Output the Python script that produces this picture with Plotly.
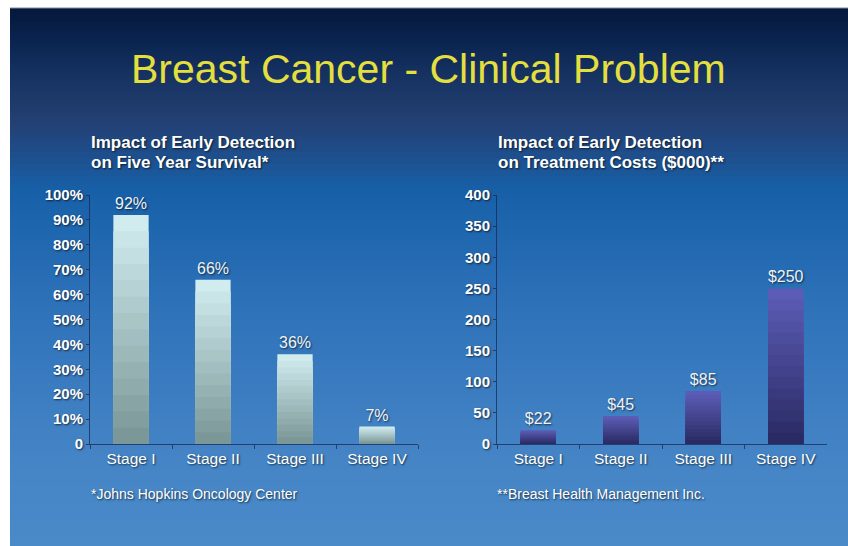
import plotly.graph_objects as go

# ---------------- data ----------------
stages = ["Stage I", "Stage II", "Stage III", "Stage IV"]
survival = [92, 66, 36, 7]
survival_labels = ["92%", "66%", "36%", "7%"]
costs = [22, 45, 85, 250]
cost_labels = ["$22", "$45", "$85", "$250"]
pct_ticks = [0, 10, 20, 30, 40, 50, 60, 70, 80, 90, 100]
pct_ticktext = ["0"] + [f"{v}%" for v in pct_ticks[1:]]
cost_ticks = [0, 50, 100, 150, 200, 250, 300, 350, 400]

title = "Breast Cancer - Clinical Problem"
sub_left = ["Impact of Early Detection", "on Five Year Survival*"]
sub_right = ["Impact of Early Detection", "on Treatment Costs ($000)**"]
foot_left = "*Johns Hopkins Oncology Center"
foot_right = "**Breast Health Management Inc."

W, H = 848, 546
FONT = "Liberation Sans, Arial, sans-serif"
SHADOW = "1px 1px 2px rgba(0,0,0,0.65)"


def hex2rgb(h):
    h = h.lstrip("#")
    return tuple(int(h[i:i + 2], 16) for i in (0, 2, 4))


def mix(c1, c2, t):
    a, b = hex2rgb(c1), hex2rgb(c2)
    return "rgb(%d,%d,%d)" % tuple(round(a[i] + (b[i] - a[i]) * t) for i in range(3))


def px(x):
    return x / W


def py(y):
    return 1 - y / H


# ---------------- background gradient ----------------
stops = [(8, "#06173a"), (40, "#0a2450"), (80, "#173463"), (120, "#243f72"),
         (150, "#1f4c88"), (190, "#1760a8"), (230, "#1e66ae"), (300, "#2d71b8"),
         (380, "#3a7bc0"), (460, "#4585c6"), (546, "#4a8ac9")]


def bg_color(y):
    for (y0, c0), (y1, c1) in zip(stops[:-1], stops[1:]):
        if y0 <= y <= y1:
            return mix(c0, c1, (y - y0) / (y1 - y0))
    return stops[-1][1]


shapes = []
step = 3
y = 8
while y < H:
    y2 = min(y + step + 1, H)
    shapes.append(dict(type="rect", xref="paper", yref="paper", layer="below",
                       x0=px(10), x1=1.0, y0=py(y2), y1=py(y),
                       fillcolor=bg_color(y + step / 2), line=dict(width=0)))
    y += step
shapes.append(dict(type="line", xref="paper", yref="paper", layer="below",
                   x0=px(10), x1=1.0, y0=py(8), y1=py(8),
                   line=dict(color="#7d8ca3", width=1)))

fig = go.Figure()

# ---------------- bars with vertical gradient ----------------
N = 14


def add_gradient_bars(vals, labels, top, bottom, xa, ya):
    for k in range(N):
        f = 1 - k / N
        fig.add_trace(go.Bar(
            x=stages, y=[v * f for v in vals], xaxis=xa, yaxis=ya,
            width=0.43,
            marker=dict(color=mix(top, bottom, k / (N - 1)), line=dict(width=0)),
            text=labels if k == 0 else None,
            textposition="outside" if k == 0 else "none",
            textfont=dict(family=FONT, size=16, color="#eef3f8", shadow=SHADOW),
            cliponaxis=False, showlegend=False, hoverinfo="skip"))


add_gradient_bars(survival, survival_labels, "#d0ecef", "#7b9797", "x", "y")
add_gradient_bars(costs, cost_labels, "#5c5cb6", "#2a2b64", "x2", "y2")

ydom = [py(444), py(195)]
axis_line = "rgba(25,40,80,0.75)"
tickfont = dict(family=FONT, size=15.5, color="white", shadow=SHADOW)
ytickfont = dict(family=FONT, size=15, color="white", shadow=SHADOW, weight="bold")

common_x = dict(type="category", showgrid=False, zeroline=False, showline=True,
                linecolor=axis_line, linewidth=1, ticks="outside", ticklen=4,
                tickcolor=axis_line, tickson="boundaries", tickfont=tickfont,
                fixedrange=True, automargin=False)
common_y = dict(showgrid=False, zeroline=False, showline=True, linecolor=axis_line,
                linewidth=1, ticks="outside", ticklen=3, tickcolor=axis_line,
                tickfont=ytickfont, fixedrange=True, domain=ydom, automargin=False)

fig.update_layout(
    width=W, height=H, margin=dict(l=0, r=0, t=0, b=0, pad=0), autosize=False,
    paper_bgcolor="white", plot_bgcolor="rgba(0,0,0,0)",
    barmode="overlay", bargap=0.57, shapes=shapes,
    xaxis=dict(common_x, domain=[px(90), px(418)], anchor="y"),
    yaxis=dict(common_y, range=[0, 100], tickvals=pct_ticks, ticktext=pct_ticktext,
               anchor="x"),
    xaxis2=dict(common_x, domain=[px(497), px(827)], anchor="y2"),
    yaxis2=dict(common_y, range=[0, 400], tickvals=cost_ticks, anchor="x2"),
)

ann = []
ann.append(dict(text=title, x=px(428), y=py(69), xref="paper", yref="paper",
                showarrow=False, xanchor="center", yanchor="middle",
                font=dict(family=FONT, size=41, color="#e4df3e")))
for i, (t_l, t_r) in enumerate(zip(sub_left, sub_right)):
    yy = py(143 + 19.5 * i)
    ann.append(dict(text=t_l, x=px(89), y=yy, xref="paper", yref="paper", showarrow=False,
                    xanchor="left", yanchor="middle",
                    font=dict(family=FONT, size=17, color="white", weight="bold", shadow=SHADOW)))
    ann.append(dict(text=t_r, x=px(496), y=yy, xref="paper", yref="paper", showarrow=False,
                    xanchor="left", yanchor="middle",
                    font=dict(family=FONT, size=17, color="white", weight="bold", shadow=SHADOW)))
ann.append(dict(text=foot_left, x=px(89), y=py(494), xref="paper", yref="paper",
                showarrow=False, xanchor="left", yanchor="middle",
                font=dict(family=FONT, size=14, color="white", shadow=SHADOW)))
ann.append(dict(text=foot_right, x=px(495), y=py(494), xref="paper", yref="paper",
                showarrow=False, xanchor="left", yanchor="middle",
                font=dict(family=FONT, size=14, color="white", shadow=SHADOW)))
fig.update_layout(annotations=ann)

fig.write_html("out.html", config={"displayModeBar": False},
               post_script="document.body.style.margin='0px';")
